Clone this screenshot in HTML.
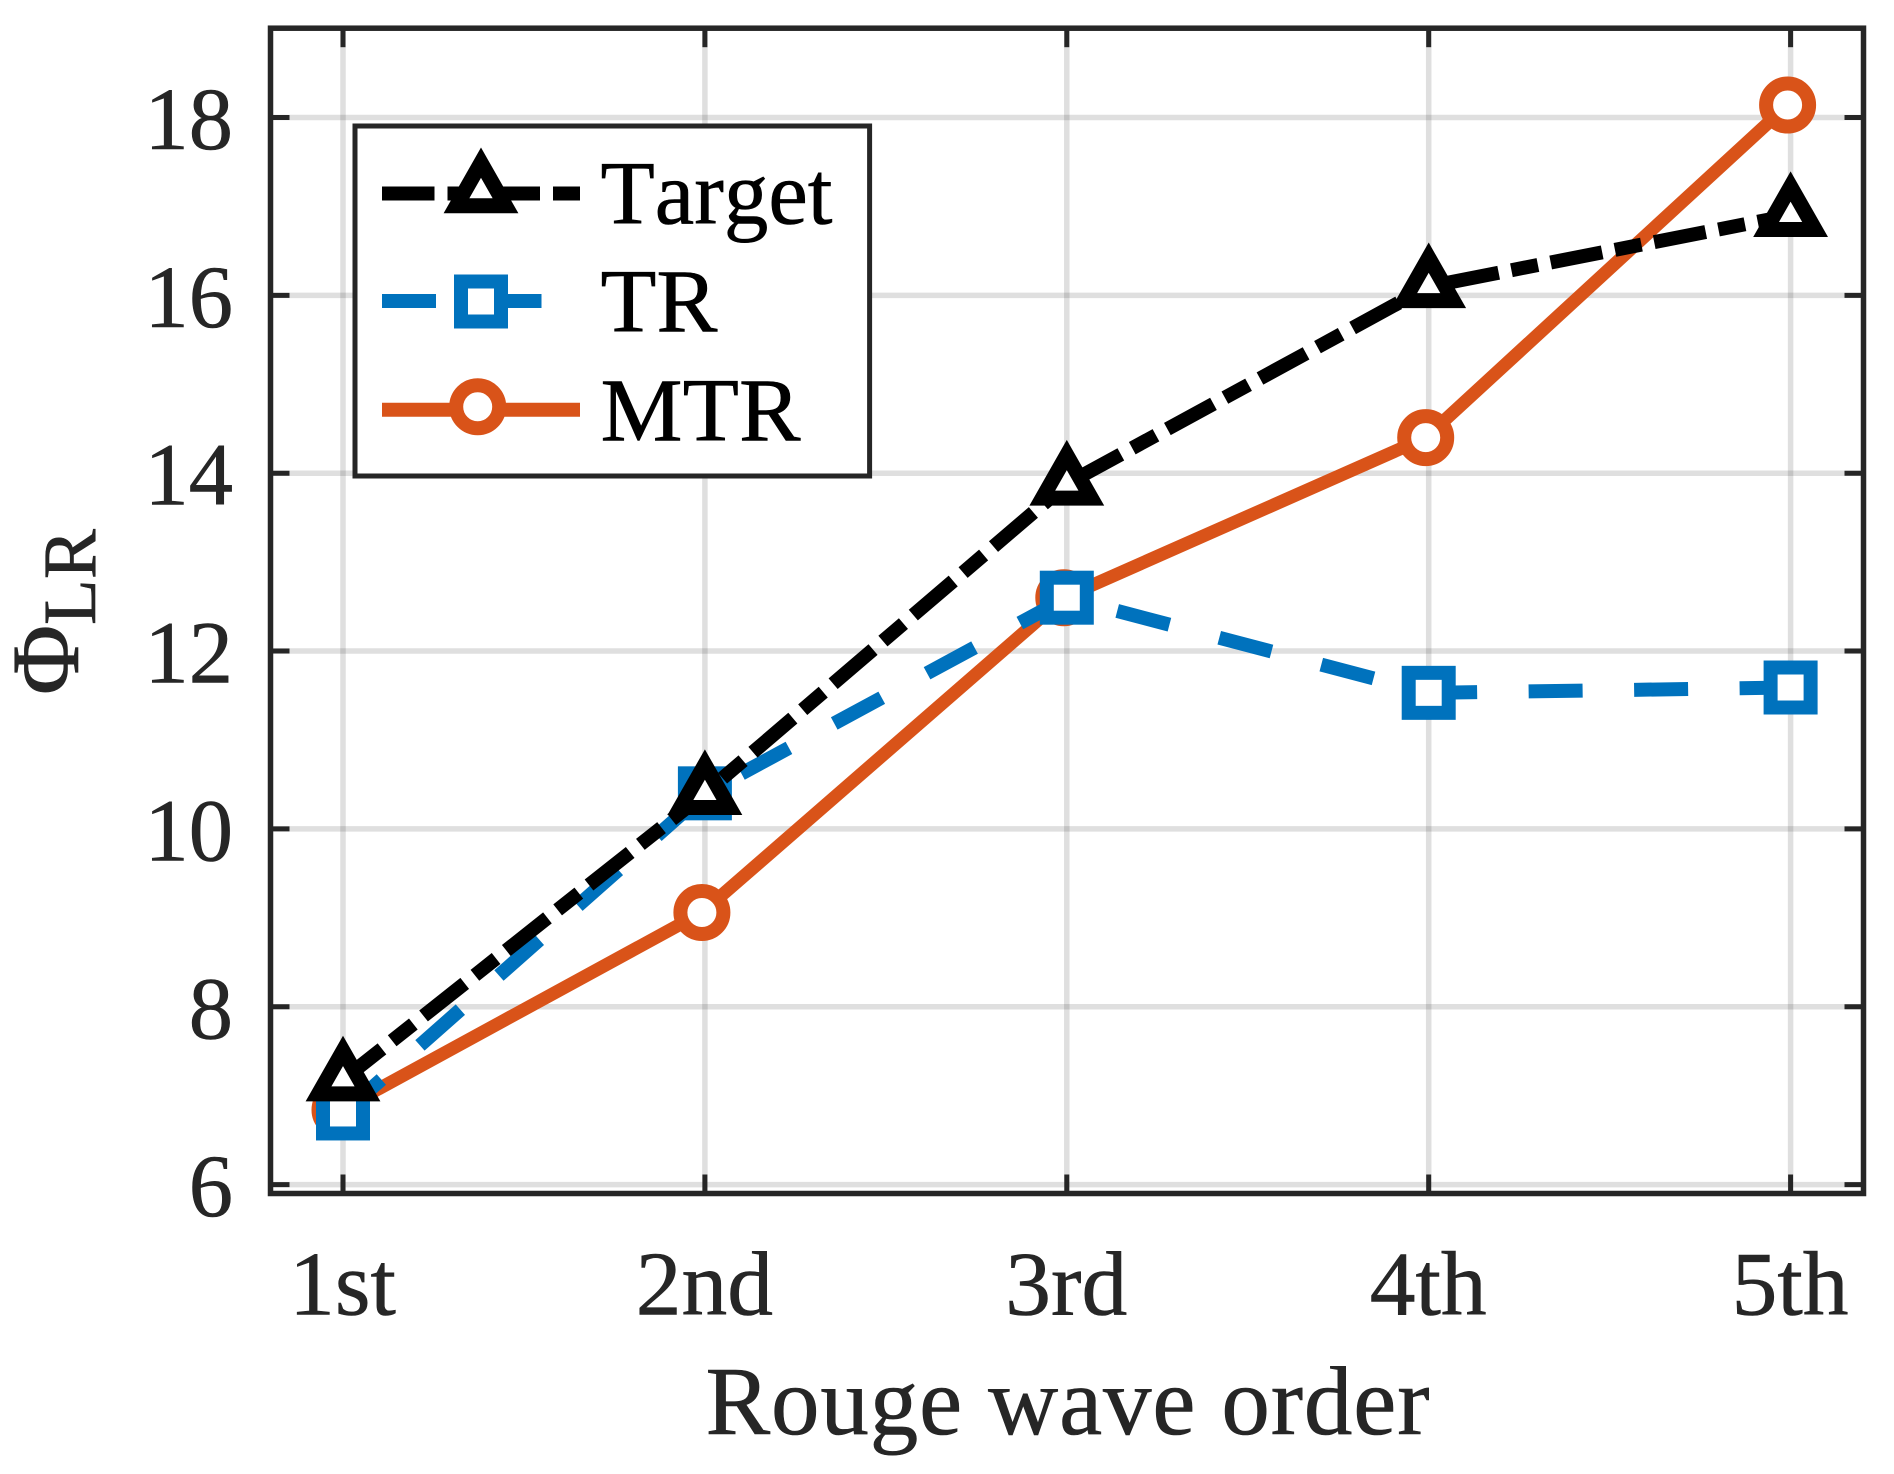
<!DOCTYPE html>
<html lang="en">
<head>
<meta charset="utf-8">
<title>Rouge wave order chart</title>
<style>
html,body{margin:0;padding:0;background:#fff;width:1894px;height:1474px;overflow:hidden}
svg{display:block}
text{font-family:"Liberation Serif",serif;fill:#262626;stroke:#262626;stroke-width:.6;font-kerning:none}
.blk{fill:#000;stroke:#000}
</style>
</head>
<body>
<svg id="chart" xmlns="http://www.w3.org/2000/svg" width="1894" height="1474" viewBox="0 0 1894 1474">
  <rect x="0" y="0" width="1894" height="1474" fill="#fff"/>
  <g id="grid"></g>
  <g id="series"></g>
  <g id="ticks"></g>
  <rect x="270.5" y="28.2" width="1593" height="1165.3" fill="none" stroke="#262626" stroke-width="5.5"/>
  <g id="tick-labels"></g>
  <text x="705.5" y="1434" font-size="97" textLength="724" lengthAdjust="spacing">Rouge wave order</text>
  <g>
    <text transform="translate(78,695) rotate(-90)" font-size="96">Φ</text>
    <text transform="translate(95,625) rotate(-90)" font-size="75">LR</text>
  </g>
  <g id="legend">
    <rect x="355" y="126" width="514.6" height="350" fill="#fff" stroke="#262626" stroke-width="5"/>
    <g id="legend-samples"></g>
    <text class="blk" x="600.5" y="223.3" font-size="90" textLength="232" lengthAdjust="spacingAndGlyphs">Target</text>
    <text class="blk" x="600.5" y="331.7" font-size="90" textLength="117" lengthAdjust="spacingAndGlyphs">TR</text>
    <text class="blk" x="600.5" y="440.7" font-size="90" textLength="200" lengthAdjust="spacingAndGlyphs">MTR</text>
  </g>
</svg>
<script>
const categories = ['1st', '2nd', '3rd', '4th', '5th'];
const targetValues = [7.18, 10.4, 13.88, 16.1, 16.9];
const trValues = [6.8, 10.4, 12.6, 11.53, 11.59];
const mtrValues = [6.84, 9.06, 12.6, 14.4, 18.14];
const yTickValues = [6, 8, 10, 12, 14, 16, 18];

const NS = 'http://www.w3.org/2000/svg';
const X0 = 343, DX = 361.9, Y18 = 117.5, DY = 88.925;
function xScale(i) { return X0 + DX * i; }
function yScale(v) { return Y18 + (18 - v) * DY; }
function make(tag, parent, attrs) {
  const el = document.createElementNS(NS, tag);
  for (const k in attrs) el.setAttribute(k, attrs[k]);
  parent.appendChild(el);
  return el;
}
const GRID = 'rgba(38,38,38,0.15)';
const gridG = document.getElementById('grid');
const tickG = document.getElementById('ticks');
const labelG = document.getElementById('tick-labels');
const AX = {left: 270.5, right: 1863.5, top: 28.2, bottom: 1193.5};

categories.forEach(function (c, i) {
  const x = xScale(i);
  const g = make('line', gridG, {x1: x, x2: x, y1: AX.top, y2: AX.bottom, stroke: GRID, 'stroke-width': 5.5});
  
  
  const t1 = make('line', tickG, {x1: x, x2: x, y1: AX.bottom, y2: AX.bottom - 19, stroke: '#262626', 'stroke-width': 5});
  
  
  const t2 = make('line', tickG, {x1: x, x2: x, y1: AX.top, y2: AX.top + 19, stroke: '#262626', 'stroke-width': 5});
  
  
  const l = make('text', labelG, {x: x - 0.5, y: 1314.3, 'text-anchor': 'middle', 'font-size': 91.5});
  l.textContent = c;
  
  
});

yTickValues.forEach(function (v) {
  const y = yScale(v);
  const g = make('line', gridG, {x1: AX.left, x2: AX.right, y1: y, y2: y, stroke: GRID, 'stroke-width': 5.5});
  
  
  const t1 = make('line', tickG, {x1: AX.left, x2: AX.left + 19, y1: y, y2: y, stroke: '#262626', 'stroke-width': 5});
  
  
  const t2 = make('line', tickG, {x1: AX.right, x2: AX.right - 19, y1: y, y2: y, stroke: '#262626', 'stroke-width': 5});
  
  
  const l = make('text', labelG, {x: 233, y: y + 31.5, 'text-anchor': 'end', 'font-size': 88.5});
  l.textContent = String(v);
  
  
});

const BLACK = '#000000', BLUE = '#0072BD', ORANGE = '#D95319';
const DASH_DOT = '52.5 13 27 13', DASHED = '54 51.5';
const W = 14;

function triangle(parent, x, y) {
  const pts = [[x, y - 28.8], [x + 24.5, y + 14.2], [x - 24.5, y + 14.2]].map(function (p) { return p.join(','); }).join(' ');
  return make('polygon', parent, {points: pts, fill: '#fff', stroke: BLACK, 'stroke-width': 15, 'stroke-miterlimit': 10});
}
function square(parent, x, y) {
  return make('rect', parent, {x: x - 20, y: y - 20, width: 40, height: 40, fill: '#fff', stroke: BLUE, 'stroke-width': W});
}
function circle(parent, x, y) {
  return make('circle', parent, {cx: x, cy: y, r: 21.5, fill: '#fff', stroke: ORANGE, 'stroke-width': W});
}

const seriesG = document.getElementById('series');
function drawSeries(values, name, color, width, dash, marker, shift) {
  const g = make('g', seriesG, {transform: 'translate(' + shift + ',0)'});
  
  
  const pts = values.map(function (v, i) { return xScale(i) + ',' + yScale(v); }).join(' ');
  const attrs = {points: pts, fill: 'none', stroke: color, 'stroke-width': width, 'stroke-linejoin': 'miter'};
  if (dash) { attrs['stroke-dasharray'] = dash; attrs['stroke-dashoffset'] = 2.8; }
  const line = make('polyline', g, attrs);
  
  
  values.forEach(function (v, i) {
    const m = marker(g, xScale(i), yScale(v));
    
    
  });
}
drawSeries(mtrValues, 'mtr', ORANGE, 13, null, circle, -3);
drawSeries(trValues, 'tr', BLUE, W, DASHED, square, 0);
drawSeries(targetValues, 'target', BLACK, W, DASH_DOT, triangle, 0);

const legG = document.getElementById('legend-samples');
function legendLine(y, color, dash, name) {
  const attrs = {x1: 382, x2: 580, y1: y, y2: y, stroke: color, 'stroke-width': W};
  if (dash) attrs['stroke-dasharray'] = dash;
  const l = make('line', legG, attrs);
  
  
}
legendLine(193.5, BLACK, DASH_DOT, 'target');
legendLine(301, BLUE, DASHED, 'tr');
legendLine(409.7, ORANGE, null, 'mtr');
const lm1 = triangle(legG, 481, 191.5);


const lm2 = square(legG, 481, 301.5);


const lm3 = circle(legG, 477.7, 406.7);


</script>
</body>
</html>
